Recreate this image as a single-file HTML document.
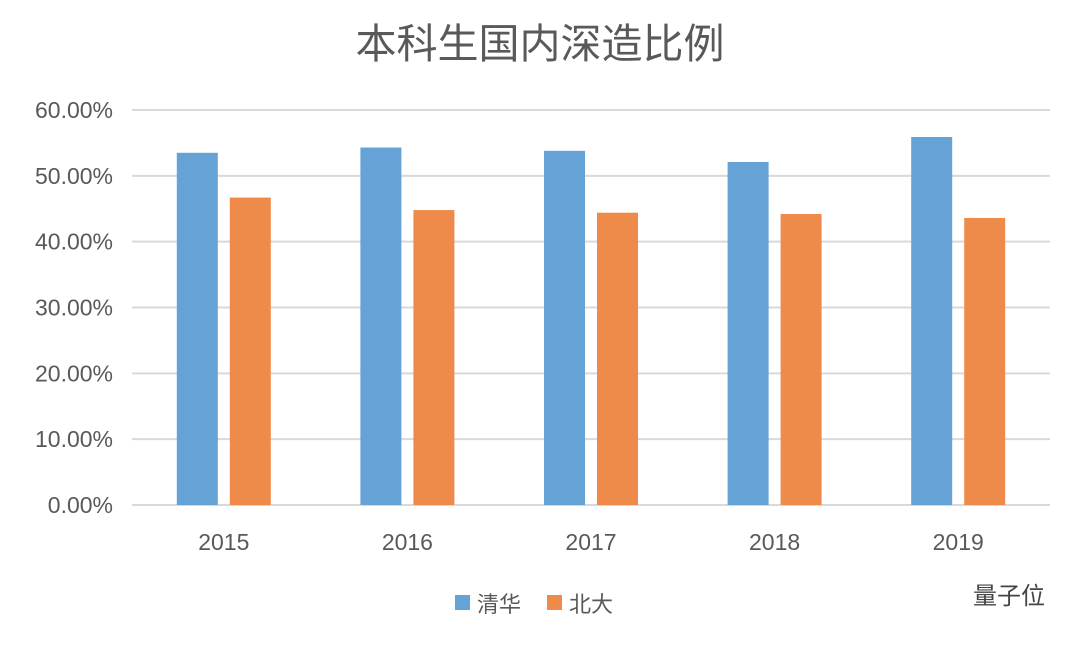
<!DOCTYPE html>
<html><head><meta charset="utf-8"><style>
body{margin:0;background:#fff;width:1080px;height:642px;overflow:hidden;font-family:"Liberation Sans","Noto Sans CJK SC",sans-serif}
</style></head><body>
<svg id="chart" width="1080" height="642" xmlns="http://www.w3.org/2000/svg">
<text x="540" y="58" text-anchor="middle" font-size="41" fill="#595959" font-family="Liberation Sans, Noto Sans CJK SC, sans-serif">本科生国内深造比例</text>
<g id="grid"></g><g id="bars"></g><g id="labels"></g>
<g>
<rect x="455" y="595" width="15" height="15" fill="#65a2d6"/>
<text x="477" y="612" font-size="22" fill="#595959">清华</text>
<rect x="547" y="595" width="15" height="15" fill="#ef8b4a"/>
<text x="569" y="612" font-size="22" fill="#595959">北大</text>
</g>
<text x="1045" y="604" text-anchor="end" font-size="24" fill="#444">量子位</text>
</svg>
<script>
const categories=["2015","2016","2017","2018","2019"];
const tsinghua=[53.5,54.3,53.8,52.1,55.9];
const pku=[46.7,44.8,44.4,44.2,43.6];
const yTicks=[0,10,20,30,40,50,60];
const NS="http://www.w3.org/2000/svg";
const y=v=>505-v*(395/60);
const left=132,right=1050,band=(right-left)/categories.length;
const cx=i=>left+band*(i+0.5);
function mk(t,a,p){const e=document.createElementNS(NS,t);for(const k in a)e.setAttribute(k,a[k]);p.appendChild(e);return e;}
const g=document.getElementById('grid'),b=document.getElementById('bars'),l=document.getElementById('labels');
yTicks.forEach(v=>{
 const ln=mk('line',{x1:left,x2:right,y1:y(v),y2:y(v),stroke:'#d9d9d9','stroke-width':2},g);
 
 
 const t=mk('text',{x:113,y:y(v)+8,'text-anchor':'end','font-size':23,fill:'#595959'},l);
 t.textContent=v.toFixed(2)+'%';
 
 
});
categories.forEach((c,i)=>{
 const r1=mk('rect',{x:cx(i)-47,y:y(tsinghua[i]),width:41,height:y(0)-y(tsinghua[i]),fill:'#65a2d6'},b);
 
 
 const r2=mk('rect',{x:cx(i)+6,y:y(pku[i]),width:41,height:y(0)-y(pku[i]),fill:'#ef8b4a'},b);
 
 
 const t=mk('text',{x:cx(i),y:550,'text-anchor':'middle','font-size':23,fill:'#595959'},l);
 t.textContent=c;
 
 
});
</script>
</body></html>
